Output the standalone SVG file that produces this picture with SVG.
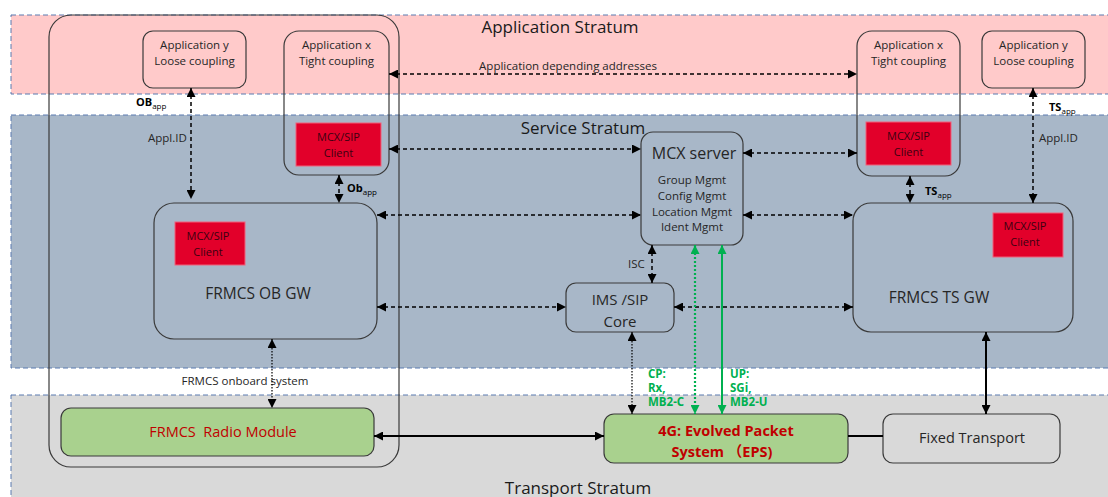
<svg xmlns="http://www.w3.org/2000/svg" width="1108" height="497" viewBox="0 0 1108 497">
  <style>
    text { font-family: "Open Sans", "Liberation Sans", sans-serif; fill: #262626; }
    .band { stroke: #5b7bb0; stroke-width: 1; stroke-dasharray: 5 3; }
    .node { fill: none; stroke: #3a3a3a; stroke-width: 1.2; }
    .client { fill: #e2002a; stroke: #f0607a; stroke-width: 1; }
    .ctext { font-size: 11px; fill: #3c0010; text-anchor: middle; }
    .ntext { font-size: 11.5px; text-anchor: middle; }
    .stratum { font-size: 17px; text-anchor: middle; fill: #1a1a1a; }
    .gw { font-size: 15.5px; text-anchor: middle; }
    .red { fill: #c00000; font-size: 14.5px; text-anchor: middle; }
    .redb { fill: #c00000; font-size: 14.5px; font-weight: bold; text-anchor: middle; }
    .dash { fill: none; stroke: #000; stroke-width: 1.5; stroke-dasharray: 4 3; }
    .dot { fill: none; stroke: #000; stroke-width: 1.2; stroke-dasharray: 1.5 1.5; }
    .solid { fill: none; stroke: #000; stroke-width: 2; }
    .gdot { fill: none; stroke: #00b050; stroke-width: 2.2; stroke-dasharray: 2 2; }
    .gsolid { fill: none; stroke: #00b050; stroke-width: 2; }
    .lbl { font-size: 11.5px; }
    .blbl { font-size: 11px; font-weight: bold; fill: #000; }
    .green { font-size: 11.5px; font-weight: bold; fill: #00b050; }
  </style>
  <defs>
    <marker id="ah" viewBox="0 0 10 10" refX="10" refY="5" markerWidth="9" markerHeight="9" markerUnits="userSpaceOnUse" orient="auto-start-reverse">
      <path d="M0,0 L10,5 L0,10 z" fill="#000"/>
    </marker>
    <marker id="ahg" viewBox="0 0 10 10" refX="10" refY="5" markerWidth="9" markerHeight="9" markerUnits="userSpaceOnUse" orient="auto-start-reverse">
      <path d="M0,0 L10,5 L0,10 z" fill="#00b050"/>
    </marker>
  </defs>

  <rect width="1108" height="497" fill="#ffffff"/>

  <!-- strata bands -->
  <g id="strata">
    <rect class="band" x="11" y="15" width="1110" height="79" fill="#ffcaca"/>
    <rect class="band" x="11" y="115" width="1110" height="253" fill="#a8b7c8"/>
    <rect class="band" x="11" y="395" width="1110" height="120" fill="#d9d9d9"/>
    <text class="stratum" x="560" y="33">Application Stratum</text>
    <text class="stratum" x="583" y="134">Service Stratum</text>
    <text class="stratum" x="578" y="494">Transport Stratum</text>
  </g>

  <!-- onboard system frame -->
  <g id="onboard-system">
    <rect x="49" y="15" width="350" height="452" rx="22" fill="none" stroke="#3a3a3a" stroke-width="1.2"/>
    <text class="lbl" x="245" y="385" text-anchor="middle">FRMCS onboard system</text>
  </g>

  <g id="app-y-ob">
    <rect class="node" x="143" y="31" width="103" height="57" rx="10"/>
    <text class="ntext" x="194.5" y="49">Application y</text>
    <text class="ntext" x="194.5" y="65">Loose coupling</text>
  </g>

  <g id="app-x-ob">
    <rect class="node" x="284" y="31" width="105" height="144" rx="15"/>
    <text class="ntext" x="336.5" y="49">Application x</text>
    <text class="ntext" x="336.5" y="65">Tight coupling</text>
    <rect class="client" x="296" y="123" width="85" height="43"/>
    <text class="ctext" x="338.5" y="141">MCX/SIP</text>
    <text class="ctext" x="338.5" y="157">Client</text>
  </g>

  <g id="app-x-ts">
    <rect class="node" x="857" y="31" width="103" height="145" rx="15"/>
    <text class="ntext" x="908.5" y="49">Application x</text>
    <text class="ntext" x="908.5" y="65">Tight coupling</text>
    <rect class="client" x="866" y="122" width="85" height="43"/>
    <text class="ctext" x="908.5" y="140">MCX/SIP</text>
    <text class="ctext" x="908.5" y="156">Client</text>
  </g>

  <g id="app-y-ts">
    <rect class="node" x="982" y="31" width="103" height="57" rx="10"/>
    <text class="ntext" x="1033.5" y="49">Application y</text>
    <text class="ntext" x="1033.5" y="65">Loose coupling</text>
  </g>

  <g id="mcx-server">
    <rect class="node" x="641" y="132" width="102" height="113" rx="12"/>
    <text x="694" y="159" font-size="16" text-anchor="middle">MCX server</text>
    <text class="ntext" x="692" y="184">Group Mgmt</text>
    <text class="ntext" x="692" y="200">Config Mgmt</text>
    <text class="ntext" x="692" y="216">Location Mgmt</text>
    <text class="ntext" x="692" y="231">Ident Mgmt</text>
  </g>

  <g id="ims-core">
    <rect class="node" x="566" y="283" width="108" height="49" rx="10"/>
    <text x="620" y="305" font-size="15" text-anchor="middle">IMS /SIP</text>
    <text x="620" y="327" font-size="15" text-anchor="middle">Core</text>
  </g>

  <g id="ob-gw">
    <rect class="node" x="154" y="203" width="223" height="136" rx="20"/>
    <rect class="client" x="175" y="222" width="70" height="43"/>
    <text class="ctext" x="208" y="240">MCX/SIP</text>
    <text class="ctext" x="208" y="256">Client</text>
    <text class="gw" x="258" y="299">FRMCS OB GW</text>
  </g>

  <g id="ts-gw">
    <rect class="node" x="853" y="203" width="220" height="129" rx="18"/>
    <rect class="client" x="993" y="213" width="70" height="44"/>
    <text class="ctext" x="1025" y="230">MCX/SIP</text>
    <text class="ctext" x="1025" y="246">Client</text>
    <text class="gw" x="939" y="303">FRMCS TS GW</text>
  </g>

  <g id="radio-module">
    <rect x="61" y="408" width="313" height="48" rx="10" fill="#a9d18e" stroke="#3a3a3a" stroke-width="1.2"/>
    <text class="red" x="223" y="437" xml:space="preserve">FRMCS  Radio Module</text>
  </g>

  <g id="eps">
    <rect x="604" y="414" width="244" height="49" rx="10" fill="#a9d18e" stroke="#3a3a3a" stroke-width="1.2"/>
    <text class="redb" x="726" y="436">4G: Evolved Packet</text>
    <text class="redb" x="722" y="457" style="font-family: 'Open Sans', 'Noto Sans CJK SC', sans-serif">System （EPS)</text>
  </g>

  <g id="fixed-transport">
    <rect x="883" y="414" width="177" height="49" rx="10" fill="#d9d9d9" stroke="#3a3a3a" stroke-width="1.2"/>
    <text x="972" y="443" font-size="14.5" text-anchor="middle">Fixed Transport</text>
  </g>

  <!-- connectors -->
  <g id="connectors">
    <line class="dash" x1="191" y1="88" x2="191" y2="199" marker-start="url(#ah)" marker-end="url(#ah)"/>
    <line class="dash" x1="339" y1="175" x2="339" y2="203" marker-start="url(#ah)" marker-end="url(#ah)"/>
    <line class="dash" x1="389" y1="74" x2="857" y2="74" marker-start="url(#ah)" marker-end="url(#ah)"/>
    <line class="dash" x1="389" y1="149" x2="641" y2="149" marker-start="url(#ah)" marker-end="url(#ah)"/>
    <line class="dash" x1="743" y1="153" x2="857" y2="153" marker-start="url(#ah)" marker-end="url(#ah)"/>
    <line class="dash" x1="377" y1="215" x2="641" y2="215" marker-start="url(#ah)" marker-end="url(#ah)"/>
    <line class="dash" x1="743" y1="215" x2="853" y2="215" marker-start="url(#ah)" marker-end="url(#ah)"/>
    <line class="dash" x1="377" y1="307" x2="566" y2="307" marker-start="url(#ah)" marker-end="url(#ah)"/>
    <line class="dash" x1="674" y1="307" x2="853" y2="307" marker-start="url(#ah)" marker-end="url(#ah)"/>
    <line class="dash" x1="652" y1="245" x2="652" y2="283" marker-start="url(#ah)" marker-end="url(#ah)"/>
    <line class="dash" x1="910" y1="176" x2="910" y2="203" marker-start="url(#ah)" marker-end="url(#ah)"/>
    <line class="dash" x1="1033" y1="88" x2="1033" y2="203" marker-start="url(#ah)" marker-end="url(#ah)"/>
    <line class="dot" x1="272" y1="339" x2="272" y2="408" marker-start="url(#ah)" marker-end="url(#ah)"/>
    <line class="dot" x1="632" y1="332" x2="632" y2="414" marker-start="url(#ah)" marker-end="url(#ah)"/>
    <line class="gdot" x1="695" y1="245" x2="695" y2="414" marker-start="url(#ahg)" marker-end="url(#ahg)"/>
    <line class="gsolid" x1="722" y1="245" x2="722" y2="414" marker-start="url(#ahg)" marker-end="url(#ahg)"/>
    <line class="solid" x1="374" y1="436" x2="604" y2="436" marker-start="url(#ah)" marker-end="url(#ah)"/>
    <line class="solid" x1="848" y1="436" x2="883" y2="436"/>
    <line class="solid" x1="986" y1="332" x2="986" y2="414" marker-start="url(#ah)" marker-end="url(#ah)"/>

    <text class="blbl" x="136" y="106">OB<tspan font-size="8" font-weight="normal" dy="3">app</tspan></text>
    <text class="lbl" x="148" y="142">Appl.ID</text>
    <text class="blbl" x="347" y="192">Ob<tspan font-size="8" font-weight="normal" dy="3">app</tspan></text>
    <text class="lbl" x="568" y="70" text-anchor="middle">Application depending addresses</text>
    <text class="lbl" x="628" y="268">ISC</text>
    <text class="blbl" x="925" y="195">TS<tspan font-size="8" font-weight="normal" dy="3">app</tspan></text>
    <text class="blbl" x="1049" y="111">TS<tspan font-size="8" font-weight="normal" dy="3">app</tspan></text>
    <text class="lbl" x="1039" y="142">Appl.ID</text>
    <text class="green" x="648" y="378">CP:</text>
    <text class="green" x="648" y="392">Rx,</text>
    <text class="green" x="648" y="406">MB2-C</text>
    <text class="green" x="730" y="378">UP:</text>
    <text class="green" x="730" y="392">SGi,</text>
    <text class="green" x="730" y="406">MB2-U</text>
  </g>
</svg>
